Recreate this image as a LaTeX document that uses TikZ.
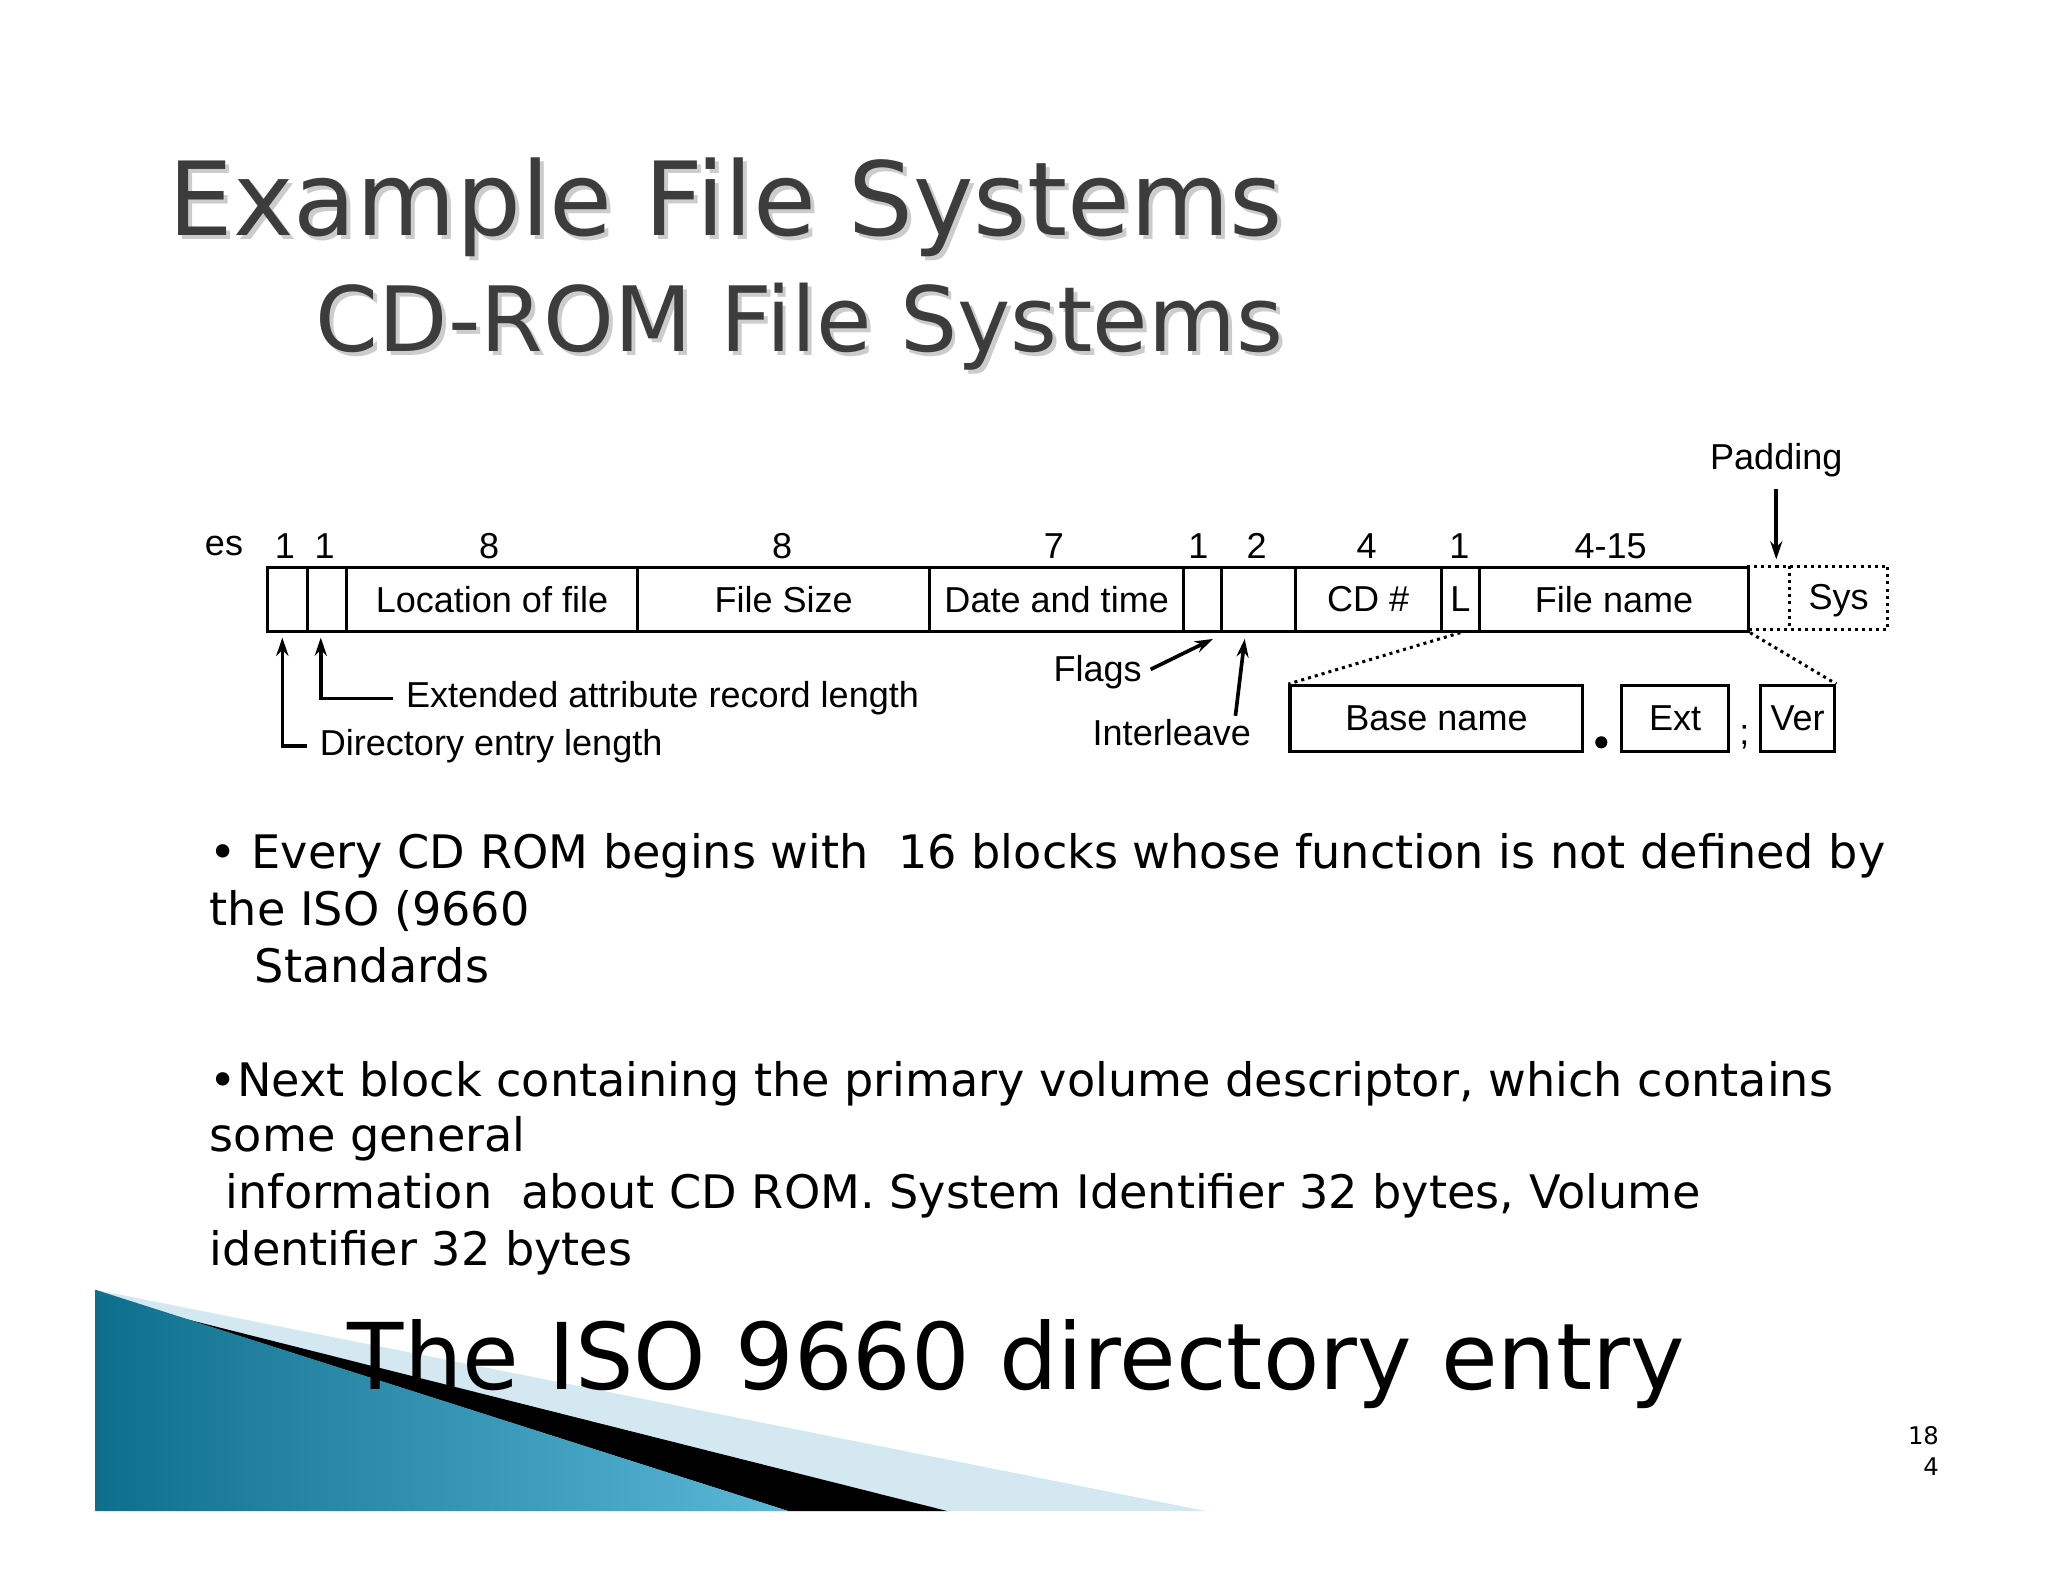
\documentclass[tikz,border=0pt]{standalone}
\usepackage{fontspec}
\setmainfont{DejaVu Sans}
\newfontfamily\arialf{Liberation Sans}
\usetikzlibrary{arrows.meta}
\definecolor{titlegray}{HTML}{3C3C3C}
\definecolor{teal1}{HTML}{0E6F8C}
\definecolor{teal2}{HTML}{5BB8D8}
\definecolor{lightb}{HTML}{D3E8F0}
\newlength{\uu}\setlength{\uu}{0.6546pt}
\begin{document}
\begin{tikzpicture}[x=\uu,y=-\uu,
  lab/.style={font=\arialf\fontsize{17.8}{20}\selectfont,inner sep=0pt},
  fld/.style={draw,line width=1.5pt,minimum height=48\uu,inner sep=0pt,font=\arialf\fontsize{17.8}{20}\selectfont},
  arr/.style={line width=1.8pt,-{Stealth[length=9pt,width=6pt]}},
  body/.style={font=\fontsize{22.8}{26}\selectfont,anchor=base west,inner sep=0pt},
  dotl/.style={line width=1.5pt,dotted}]
\useasboundingbox (0,0) rectangle (1545,1193);
% decorative band
\fill[lightb] (72,973) -- (910,1140) -- (72,1140) -- cycle;
\fill[black] (140,995) -- (715,1140) -- (595,1140) -- cycle;
\shade[left color=teal1,right color=teal2] (72,973) -- (595,1140) -- (72,1140) -- cycle;
% titles
\node[anchor=base west,inner sep=0pt,text=gray!40,font=\fontsize{50.5}{56}\selectfont] at (130,181) {Example File Systems};
\node[anchor=base west,inner sep=0pt,text=titlegray,font=\fontsize{50.5}{56}\selectfont] (t1) at (127,178) {Example File Systems};
\node[anchor=base west,inner sep=0pt,text=gray!40,font=\fontsize{44.5}{49}\selectfont] at (241,268) {CD-ROM File Systems};
\node[anchor=base west,inner sep=0pt,text=titlegray,font=\fontsize{44.5}{49}\selectfont] (t2) at (238,265) {CD-ROM File Systems};
% fields
\node[fld,minimum width=30\uu,anchor=north west] (f1) at (201,427) {};
\node[fld,minimum width=29\uu,anchor=north west] (f2) at (231,427) {};
\node[fld,minimum width=220\uu,anchor=north west] (f3) at (260,427) {Location of file};
\node[fld,minimum width=220\uu,anchor=north west] (f4) at (480,427) {File Size};
\node[fld,minimum width=192\uu,anchor=north west] (f5) at (700,427) {Date and time};
\node[fld,minimum width=28\uu,anchor=north west] (f6) at (892,427) {};
\node[fld,minimum width=56\uu,anchor=north west] (f7) at (920,427) {};
\node[fld,minimum width=110\uu,anchor=north west] (f8) at (976,427) {CD \#};
\node[fld,minimum width=29\uu,anchor=north west] (f9) at (1086,427) {L};
\node[fld,minimum width=203\uu,anchor=north west] (f10) at (1115,427) {File name};
\draw[dotl] (1318,427) -- (1424,427) -- (1424,475) -- (1318,475);
\draw[dotl] (1350,427) -- (1350,475);
\node[lab] (sys) at (1387,453) {Sys};
% numbers
\foreach \x/\t in {169/es,215/1,245/1,369/8,590/8,795/7,904/1,948/2,1031/4,1101/1,1215/4-15}
  \node[lab] at (\x,412) {\t};
% padding
\node[lab] (pad) at (1340,347) {Padding};
\coordinate (padtip) at (1340,422);
\draw[arr] (pad.south) ++(0,-6pt) -- (padtip);
% lower boxes
\node[fld,minimum width=221\uu,minimum height=50\uu,anchor=north west] (bn) at (972,516) {Base name};
\node[fld,minimum width=81\uu,minimum height=50\uu,anchor=north west] (ext) at (1222,516) {Ext};
\node[fld,minimum width=56\uu,minimum height=50\uu,anchor=north west] (ver) at (1327,516) {Ver};
\fill (1208,560) circle (3pt);
\node[lab] (semi) at (1316,556) {;};
\draw[dotl] (f9.south) -- (bn.north west);
\draw[dotl] (f10.south east) -- (ver.north east);
% left arrows
\node[lab,anchor=west] (del) at (241,563) {Directory entry length};
\node[lab,anchor=west] (ear) at (306,527) {Extended attribute record length};
\draw[arr] (del.west) ++(-6pt,0) -| (213,481);
\draw[arr] (ear.west) ++(-6pt,0) -| (242,481);
% flags, interleave
\node[lab] (flags) at (828,507) {Flags};
\node[lab] (inter) at (884,553) {Interleave};
\draw[arr] (868,505) -- (915,482);
\draw[arr] (932,540) -- (939,482);
% body text
\node[body] at (158,655) {• Every CD ROM begins with \ 16 blocks whose function is not defined by};
\node[body] at (158,698) {the ISO (9660};
\node[body] at (192,741) {Standards};
\node[body] at (158,827) {•Next block containing the primary volume descriptor, which contains};
\node[body] at (158,869) {some general};
\node[body] at (170,912) {information \ about CD ROM. System Identifier 32 bytes, Volume};
\node[body] at (158,955) {identifier 32 bytes};
\node[anchor=base west,inner sep=0pt,font=\fontsize{45.5}{50}\selectfont] (bt) at (262,1048) {The ISO 9660 directory entry};
\node[anchor=base east,inner sep=0pt,font=\fontsize{12}{13}\selectfont] at (1463,1090) {18};
\node[anchor=base east,inner sep=0pt,font=\fontsize{12}{13}\selectfont] at (1463,1113) {4};
\end{tikzpicture}
\end{document}
